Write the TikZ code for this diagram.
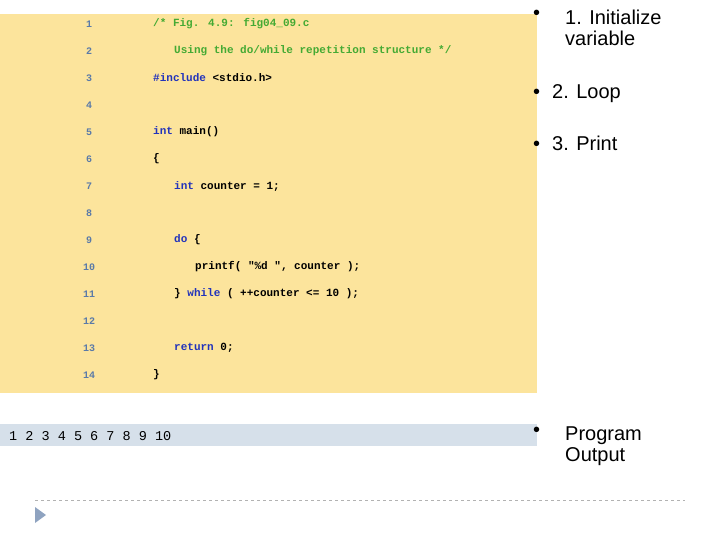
\documentclass[tikz,border=0pt]{standalone}
\usepackage{fontspec}
\setmainfont{Liberation Sans}
\newfontfamily\codefont{Liberation Mono}
\definecolor{codebg}{HTML}{FCE49C}
\definecolor{outbg}{HTML}{D6E0EA}
\definecolor{numc}{HTML}{5A7AA8}
\definecolor{cmt}{HTML}{44AA33}
\definecolor{kw}{HTML}{2233BB}
\definecolor{tri}{HTML}{8FA3C0}
\begin{document}
\begin{tikzpicture}[x=1pt,y=-1pt,
  code/.style={anchor=west,inner sep=0,font=\codefont\bfseries\fontsize{11}{11}\selectfont},
  lnum/.style={anchor=center,inner sep=0,text=numc,font=\codefont\bfseries\fontsize{10}{10}\selectfont},
  bul/.style={anchor=north west,inner sep=0,align=left,font=\fontsize{20}{21}\selectfont}]
\useasboundingbox (0,0) rectangle (720,540);
\fill[codebg] (0,14) rectangle (537,393);
\fill[outbg] (0,424) rectangle (537,446);
\foreach \i in {1,...,14}{\node[lnum] (n\i) at (89,{24+27*(\i-1)}) {\i};}
\node[code,text=cmt] (c1) at (153,24) {/* Fig. 4.9: fig04\_09.c};
\node[code,text=cmt] (c2) at (174,51) {Using the do/while repetition structure */};
\node[code] (c3) at (153,78) {\textcolor{kw}{\#include} <stdio.h>};
\node[code] (c5) at (153,132) {\textcolor{kw}{int} main()};
\node[code] (c6) at (153,159) {\{};
\node[code] (c7) at (174,186) {\textcolor{kw}{int} counter = 1;};
\node[code] (c9) at (174,240) {\textcolor{kw}{do} \{};
\node[code] (c10) at (195,267) {printf( "\%d  ", counter );};
\node[code] (c11) at (174,294) {\} \textcolor{kw}{while} ( ++counter <= 10 );};
\node[code] (c13) at (174,348) {\textcolor{kw}{return} 0;};
\node[code] (c14) at (153,375) {\}};
\node[anchor=west,inner sep=0,font=\codefont\fontsize{13.5}{13.5}\selectfont] (out) at (9,436) {1   2   3   4   5   6   7   8   9   10};
\node[bul] (b0) at (533,10) {•};
\node[bul] (b1) at (565,10) {1. Initialize\\variable};
\node[bul] (b2) at (533,84) {•\hspace{12pt}2. Loop};
\node[bul] (b3) at (533,136) {•\hspace{12pt}3. Print};
\node[bul] (b4a) at (533,427) {•};
\node[bul] (b4) at (565,427) {Program\\Output};
\coordinate (d1) at (35,500); \coordinate (d2) at (685,500);
\draw[gray!60,dashed] (d1) -- (d2);
\fill[tri] (35,507) -- (46,515) -- (35,523) -- cycle;
\end{tikzpicture}
\end{document}
